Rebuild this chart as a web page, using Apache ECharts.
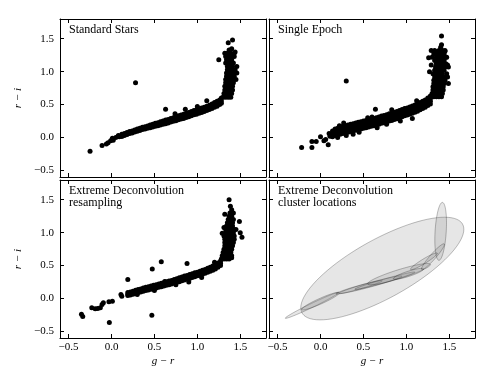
<!DOCTYPE html>
<html>
<head>
<meta charset="utf-8">
<script src="https://cdn.jsdelivr.net/npm/echarts@6/dist/echarts.min.js"></script>
<style>
  html, body { margin: 0; padding: 0; background: #fff; }
  #chart { width: 500px; height: 375px; }
</style>
</head>
<body>
<div id="chart"></div>
<script>
// 坐标轴刻度
const tickValues = [-0.5, 0, 0.5, 1.0, 1.5];
const tickLabels = ['\u22120.5', '0.0', '0.5', '1.0', '1.5'];
const panelTitles = ['Standard Stars', 'Single Epoch', 'Extreme Deconvolution\nresampling', 'Extreme Deconvolution\ncluster locations'];

// --- Standard Stars ---
const stdBandX = [0.12, 0.15, 0.18, 0.21, 0.24, 0.27, 0.30, 0.33, 0.36, 0.39, 0.42, 0.45, 0.48, 0.51, 0.54, 0.57, 0.60, 0.63, 0.66, 0.69, 0.72, 0.75, 0.78, 0.81, 0.84, 0.87, 0.90, 0.93, 0.96, 0.99, 1.02, 1.05, 1.08, 1.11, 1.14, 1.17, 1.20, 1.23, 1.26, 1.28];
const stdBandY = [
  [0.03, 0.05, 0.015], [0.045, 0.06, 0.03], [0.055, 0.075, 0.045], [0.07, 0.09, 0.06], [0.085, 0.1, 0.07],
  [0.095, 0.115, 0.085], [0.11, 0.13, 0.095], [0.12, 0.14, 0.105], [0.135, 0.155, 0.12], [0.145, 0.165, 0.13],
  [0.155, 0.175, 0.14], [0.17, 0.19, 0.15], [0.18, 0.2, 0.16], [0.19, 0.215, 0.17], [0.2, 0.225, 0.18],
  [0.215, 0.24, 0.19], [0.225, 0.25, 0.2], [0.235, 0.265, 0.21], [0.245, 0.275, 0.22], [0.26, 0.29, 0.235],
  [0.27, 0.3, 0.245], [0.28, 0.315, 0.255], [0.295, 0.33, 0.27], [0.305, 0.34, 0.28], [0.32, 0.355, 0.29],
  [0.335, 0.37, 0.305], [0.345, 0.38, 0.315], [0.36, 0.395, 0.33], [0.375, 0.41, 0.345], [0.385, 0.42, 0.355],
  [0.4, 0.435, 0.37], [0.41, 0.45, 0.38], [0.425, 0.46, 0.395], [0.44, 0.475, 0.41], [0.455, 0.49, 0.425],
  [0.47, 0.51, 0.44], [0.49, 0.53, 0.46], [0.51, 0.55, 0.475], [0.53, 0.57, 0.5], [0.555, 0.6, 0.52]
];
const stdVertY = [0.61, 0.67, 0.72, 0.78, 0.83, 0.88, 0.93, 0.98, 1.03, 1.08, 1.13, 1.18, 1.23, 1.28];
const stdVertX = [
  [1.30, 1.33, 1.36, 1.39], [1.31, 1.34, 1.37, 1.40], [1.32, 1.35, 1.38, 1.41], [1.32, 1.35, 1.38, 1.41],
  [1.33, 1.36, 1.39, 1.42], [1.33, 1.36, 1.39, 1.42, 1.45], [1.34, 1.37, 1.40, 1.43], [1.34, 1.37, 1.40, 1.43, 1.46],
  [1.35, 1.38, 1.41, 1.44], [1.35, 1.38, 1.41, 1.46], [1.33, 1.36, 1.39, 1.42], [1.34, 1.37, 1.40],
  [1.33, 1.36, 1.40, 1.43], [1.32, 1.35, 1.39, 1.43]
];
const stdExtra = [
  [-0.25, -0.21], [-0.11, -0.12], [-0.06, -0.1], [-0.04, -0.08], [-0.01, -0.05], [0.01, -0.01], [0.02, -0.04],
  [0.05, 0.0], [0.08, 0.03], [0.09, 0.01], [0.28, 0.83], [0.63, 0.43], [0.74, 0.36], [0.86, 0.43], [1.11, 0.56],
  [1.0, 0.47], [1.25, 1.18], [1.37, 1.33], [1.40, 1.35], [1.36, 1.44], [1.41, 1.48], [1.44, 1.3]
];

// --- Single Epoch ---
const seBandX = [0.14, 0.17, 0.20, 0.23, 0.26, 0.29, 0.32, 0.35, 0.38, 0.41, 0.44, 0.47, 0.50, 0.53, 0.56, 0.59, 0.62, 0.65, 0.68, 0.71, 0.74, 0.77, 0.80, 0.83, 0.86, 0.89, 0.92, 0.95, 0.98, 1.01, 1.04, 1.07, 1.10, 1.13, 1.16, 1.19, 1.22, 1.25, 1.28];
const seBandY = [
  [0.1, 0.07, 0.04, 0.01], [0.13, 0.09, 0.06, 0.03], [0.14, 0.11, 0.08, 0.04], [0.15, 0.12, 0.09, 0.05],
  [0.17, 0.13, 0.1, 0.06], [0.18, 0.14, 0.11, 0.07], [0.19, 0.15, 0.115, 0.08], [0.2, 0.16, 0.125, 0.09],
  [0.21, 0.17, 0.135, 0.1], [0.22, 0.18, 0.145, 0.11], [0.23, 0.19, 0.155, 0.12], [0.24, 0.2, 0.165, 0.13],
  [0.25, 0.21, 0.175, 0.14], [0.26, 0.22, 0.185, 0.15], [0.27, 0.23, 0.195, 0.16], [0.28, 0.24, 0.205, 0.17],
  [0.29, 0.25, 0.215, 0.18], [0.3, 0.26, 0.225, 0.19], [0.31, 0.27, 0.235, 0.2], [0.325, 0.285, 0.25, 0.215],
  [0.335, 0.295, 0.26, 0.225], [0.345, 0.305, 0.27, 0.235], [0.36, 0.32, 0.285, 0.25], [0.37, 0.33, 0.295, 0.26],
  [0.385, 0.345, 0.31, 0.275], [0.395, 0.355, 0.32, 0.285], [0.41, 0.37, 0.335, 0.3], [0.425, 0.385, 0.35, 0.315],
  [0.44, 0.4, 0.365, 0.33], [0.45, 0.41, 0.375, 0.34], [0.465, 0.425, 0.39, 0.355], [0.48, 0.44, 0.405, 0.37],
  [0.495, 0.455, 0.42, 0.385], [0.51, 0.47, 0.435, 0.4], [0.53, 0.49, 0.455, 0.42], [0.55, 0.51, 0.475, 0.44],
  [0.57, 0.53, 0.495, 0.46], [0.6, 0.555, 0.52, 0.485], [0.63, 0.59, 0.55, 0.51]
];
const seVertY = [0.62, 0.67, 0.72, 0.77, 0.82, 0.87, 0.92, 0.97, 1.02, 1.07, 1.12, 1.17, 1.22, 1.27, 1.32];
const seVertX = [
  [1.29, 1.32, 1.35, 1.38, 1.41], [1.30, 1.33, 1.36, 1.39, 1.42], [1.31, 1.34, 1.37, 1.40, 1.43],
  [1.31, 1.34, 1.37, 1.40, 1.43], [1.32, 1.35, 1.38, 1.41, 1.44, 1.49], [1.32, 1.35, 1.38, 1.42, 1.45],
  [1.33, 1.36, 1.39, 1.42, 1.46, 1.48], [1.31, 1.35, 1.38, 1.42, 1.47], [1.33, 1.36, 1.40, 1.44],
  [1.34, 1.37, 1.41, 1.45, 1.49], [1.35, 1.38, 1.42, 1.46], [1.33, 1.37, 1.40, 1.44],
  [1.30, 1.35, 1.38, 1.42, 1.46], [1.32, 1.36, 1.40, 1.44], [1.29, 1.33, 1.38, 1.42, 1.45]
];
const seExtra = [
  [-0.22, -0.15], [-0.1, -0.15], [-0.1, -0.06], [-0.05, -0.06], [0.0, 0.01], [0.04, -0.05], [0.06, -0.03],
  [0.09, -0.11], [0.1, 0.06], [0.11, 0.02], [0.3, 0.86], [0.64, 0.43], [1.07, 0.29], [0.27, 0.22], [0.45, 0.08],
  [0.55, 0.3], [0.66, 0.15], [0.83, 0.42], [0.93, 0.25], [1.12, 0.56], [0.3, 0.03], [0.22, 0.18], [0.6, 0.31],
  [0.2, 0.0], [0.38, 0.05], [0.77, 0.2], [1.27, 1.0], [1.29, 1.1], [1.26, 1.21], [1.36, 1.3], [1.40, 1.37],
  [1.41, 1.41], [1.41, 1.54], [1.47, 1.22], [1.48, 1.1], [1.45, 1.31]
];

// --- Extreme Deconvolution resampling ---
const xdBandX = [0.19, 0.22, 0.25, 0.28, 0.31, 0.34, 0.37, 0.40, 0.43, 0.46, 0.49, 0.52, 0.55, 0.58, 0.61, 0.64, 0.67, 0.70, 0.73, 0.76, 0.79, 0.82, 0.85, 0.88, 0.91, 0.94, 0.97, 1.00, 1.03, 1.06, 1.09, 1.12, 1.15, 1.18, 1.21, 1.24, 1.27];
const xdBandY = [
  [0.09, 0.065, 0.045], [0.1, 0.075, 0.055], [0.11, 0.085, 0.065], [0.125, 0.1, 0.08], [0.135, 0.11, 0.09],
  [0.145, 0.12, 0.1], [0.16, 0.135, 0.11], [0.17, 0.145, 0.12], [0.18, 0.155, 0.13], [0.19, 0.165, 0.14],
  [0.2, 0.175, 0.15], [0.21, 0.185, 0.16], [0.22, 0.195, 0.17], [0.23, 0.205, 0.18], [0.24, 0.215, 0.19],
  [0.255, 0.23, 0.2], [0.265, 0.24, 0.21], [0.275, 0.25, 0.22], [0.29, 0.26, 0.235], [0.3, 0.275, 0.245],
  [0.315, 0.285, 0.255], [0.325, 0.3, 0.27], [0.34, 0.31, 0.28], [0.35, 0.325, 0.295], [0.365, 0.335, 0.305],
  [0.375, 0.35, 0.32], [0.39, 0.36, 0.33], [0.4, 0.375, 0.345], [0.415, 0.385, 0.355], [0.43, 0.4, 0.37],
  [0.44, 0.415, 0.385], [0.46, 0.43, 0.4], [0.475, 0.445, 0.415], [0.495, 0.465, 0.43], [0.515, 0.485, 0.45],
  [0.54, 0.505, 0.475], [0.57, 0.535, 0.5]
];
const xdVertY = [0.6, 0.65, 0.7, 0.75, 0.8, 0.85, 0.9, 0.95, 1.0, 1.05, 1.1, 1.15, 1.2, 1.25, 1.3];
const xdVertX = [
  [1.28, 1.31, 1.34, 1.37], [1.29, 1.32, 1.35, 1.38, 1.40], [1.30, 1.33, 1.36, 1.39], [1.31, 1.34, 1.37, 1.40],
  [1.32, 1.35, 1.38, 1.41], [1.32, 1.35, 1.38, 1.42], [1.32, 1.36, 1.39, 1.43], [1.31, 1.34, 1.37, 1.40, 1.43],
  [1.33, 1.36, 1.39, 1.42], [1.33, 1.37, 1.40, 1.43], [1.34, 1.37, 1.41], [1.35, 1.38, 1.41],
  [1.36, 1.39, 1.42], [1.37, 1.40], [1.38, 1.41]
];
const xdExtra = [
  [-0.35, -0.24], [-0.335, -0.275], [-0.23, -0.14], [-0.19, -0.155], [-0.16, -0.15], [-0.13, -0.14],
  [-0.11, -0.09], [-0.095, -0.065], [-0.03, -0.05], [0.01, -0.04], [-0.025, -0.365], [0.11, 0.06],
  [0.12, 0.035], [0.19, 0.29], [0.475, 0.45], [0.58, 0.56], [0.47, -0.255], [0.88, 0.53], [0.3, 0.06],
  [0.5, 0.12], [0.75, 0.21], [0.9, 0.25], [1.05, 0.32], [1.2, 0.55], [0.62, 0.26], [1.4, 0.62], [1.29, 0.99],
  [1.49, 1.17], [1.5, 1.0], [1.52, 0.93], [1.32, 1.28], [1.42, 1.3], [1.40, 1.35], [1.385, 1.4], [1.37, 1.5],
  [1.31, 1.08], [1.45, 1.05]
];

// --- 聚类椭圆: 中心 + 两个半轴向量 (数据坐标) ---
const clusterCenter = [[0.72, 0.455], [1.40, 1.02], [-0.10, -0.105], [0.0, -0.04], [0.45, 0.17], [0.585, 0.21], [0.75, 0.27], [0.915, 0.37], [1.025, 0.375], [1.31, 0.635], [1.205, 0.565]];
const clusterAxisU = [[0.95, 0.595], [0.02, 0.44], [0.31, 0.195], [0.22, 0.13], [0.27, 0.10], [0.365, 0.13], [0.35, 0.13], [0.365, 0.15], [0.175, 0.075], [0.13, 0.195], [0.155, 0.125]];
const clusterAxisV = [[0, 0.504], [0.065, 0], [0.014, -0.025], [0.02, -0.035], [0.01, -0.025], [0.012, -0.03], [0.01, -0.025], [0.025, -0.06], [0.015, -0.035], [0.03, -0.02], [0.02, -0.025]];

function buildPoints(bandX, bandY, vertY, vertX, extra) {
    const pts = [];
    bandX.forEach((x, i) => bandY[i].forEach(y => pts.push([x, y])));
    vertY.forEach((y, i) => vertX[i].forEach(x => pts.push([x, y])));
    extra.forEach(p => pts.push(p));
    return pts;
}

const scatterSets = [
    buildPoints(stdBandX, stdBandY, stdVertY, stdVertX, stdExtra),
    buildPoints(seBandX, seBandY, seVertY, seVertX, seExtra),
    buildPoints(xdBandX, xdBandY, xdVertY, xdVertX, xdExtra)
];
const ellipseData = clusterCenter.map((c, i) => [c[0], c[1], clusterAxisU[i][0], clusterAxisU[i][1], clusterAxisV[i][0], clusterAxisV[i][1]]);

const FONT = 'Liberation Serif';
const grids = [
    { left: 60, top: 19, width: 206, height: 158 },
    { left: 269, top: 19, width: 206, height: 158 },
    { left: 60, top: 180, width: 206, height: 158 },
    { left: 269, top: 180, width: 206, height: 158 }
];

// 刻度标签: 按最近的刻度值取文字
function fmt(v) {
    const n = Number(v);
    let best = 0;
    tickValues.forEach((t, k) => { if (Math.abs(t - n) < Math.abs(tickValues[best] - n)) best = k; });
    return tickLabels[best];
}
const tickStyle = { show: true, inside: true, length: 4, customValues: tickValues, lineStyle: { color: '#000', width: 1 } };
const lineStyle = { show: true, onZero: false, lineStyle: { color: '#000', width: 1 } };

const xAxes = [], yAxes = [];
grids.forEach((g, i) => {
    const bottomRow = i >= 2, leftCol = i % 2 === 0;
    xAxes.push({
        type: 'value', gridIndex: i, min: -0.6, max: 1.8, position: 'bottom',
        axisLine: lineStyle, axisTick: tickStyle, splitLine: { show: false },
        axisLabel: { show: bottomRow, customValues: tickValues, formatter: fmt, color: '#000', fontFamily: FONT, fontSize: 11, margin: 4, overflow: 'none', hideOverlap: false },
        name: bottomRow ? 'g \u2212 r' : '', nameLocation: 'middle', nameGap: 18,
        nameTextStyle: { fontFamily: FONT, fontStyle: 'italic', fontSize: 11, color: '#000' }
    });
    yAxes.push({
        type: 'value', gridIndex: i, min: -0.6, max: 1.8, position: 'left',
        axisLine: lineStyle, axisTick: tickStyle, splitLine: { show: false },
        axisLabel: { show: leftCol, customValues: tickValues, formatter: fmt, color: '#000', fontFamily: FONT, fontSize: 11, margin: 6, overflow: 'none', hideOverlap: false },
        name: leftCol ? 'r \u2212 i' : '', nameLocation: 'middle', nameGap: 36, nameRotate: 90,
        nameTextStyle: { fontFamily: FONT, fontStyle: 'italic', fontSize: 11, color: '#000' }
    });
});
// 上边和右边的刻度框
grids.forEach((g, i) => {
    xAxes.push({ type: 'value', gridIndex: i, min: -0.6, max: 1.8, position: 'top', axisLine: lineStyle, axisTick: tickStyle, axisLabel: { show: false }, splitLine: { show: false } });
    yAxes.push({ type: 'value', gridIndex: i, min: -0.6, max: 1.8, position: 'right', axisLine: lineStyle, axisTick: tickStyle, axisLabel: { show: false }, splitLine: { show: false } });
});

const series = scatterSets.map((pts, i) => ({
    type: 'scatter', xAxisIndex: i, yAxisIndex: i, data: pts,
    symbol: 'circle', symbolSize: 5, itemStyle: { color: '#000', opacity: 1 }, silent: true
}));

series.push({
    type: 'custom', xAxisIndex: 3, yAxisIndex: 3, data: ellipseData, clip: true, silent: true,
    encode: { x: 0, y: 1 },
    renderItem: function (params, api) {
        const cx = api.value(0), cy = api.value(1);
        const ux = api.value(2), uy = api.value(3), vx = api.value(4), vy = api.value(5);
        const pts = [];
        for (let k = 0; k < 90; k++) {
            const t = k / 90 * Math.PI * 2;
            pts.push(api.coord([cx + ux * Math.cos(t) + vx * Math.sin(t), cy + uy * Math.cos(t) + vy * Math.sin(t)]));
        }
        return {
            type: 'polygon', shape: { points: pts },
            style: { fill: 'rgba(128,128,128,0.2)', stroke: 'rgba(0,0,0,0.25)', lineWidth: 1 }
        };
    }
});

const titles = panelTitles.map((t, i) => ({
    text: t, left: grids[i].left + 9, top: grids[i].top + 5, padding: 0,
    textStyle: { fontFamily: FONT, fontSize: 12, fontWeight: 'normal', color: '#000', lineHeight: 12 }
}));

const chart = echarts.init(document.getElementById('chart'));
chart.setOption({
    animation: false,
    backgroundColor: '#fff',
    title: titles,
    grid: grids.map(g => Object.assign({ show: false }, g)),
    xAxis: xAxes,
    yAxis: yAxes,
    series: series
});
</script>
</body>
</html>
